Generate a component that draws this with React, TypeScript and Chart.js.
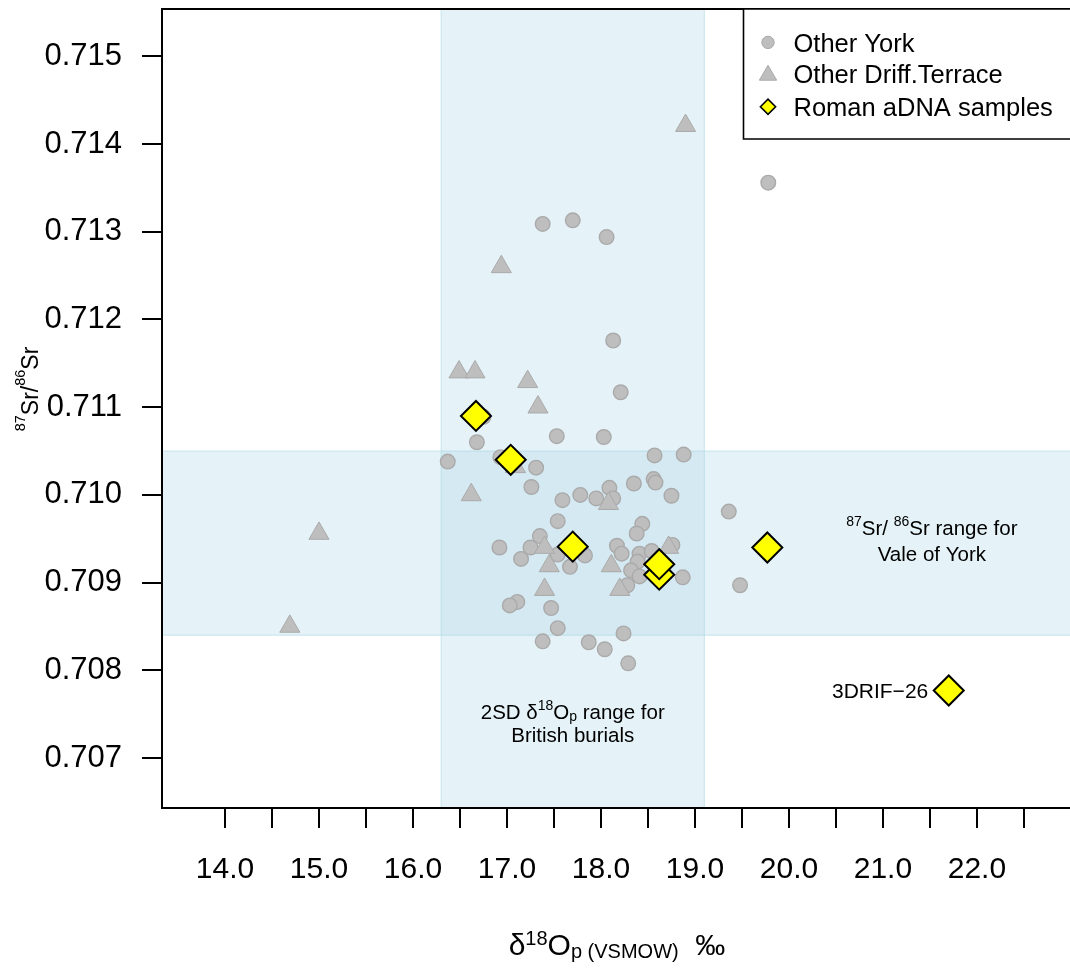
import React, { useEffect, useRef } from 'react';
import { Chart, registerables } from 'chart.js';

Chart.register(...registerables);

const FONT = '"Liberation Sans", Arial, Helvetica, sans-serif';

// ---- data ----
const yorkX = [17.38, 17.70, 18.06, 18.13, 18.21, 19.78, 16.68, 17.53, 18.03, 16.37, 16.93, 16.75, 17.31, 17.26, 18.57, 18.88, 17.59, 17.78, 17.95, 18.09, 18.13, 18.35, 18.56, 18.58, 18.75, 19.36, 19.48, 17.54, 18.44, 18.38, 17.35, 17.25, 16.92, 17.15, 17.83, 17.67, 17.54, 18.17, 18.22, 18.41, 18.54, 18.39, 18.32, 18.41, 18.28, 18.76, 18.87, 17.47, 17.11, 17.03, 17.54, 17.38, 17.87, 18.04, 18.24, 18.29];
const yorkY = [0.71309, 0.71313, 0.71294, 0.71176, 0.71117, 0.71356, 0.71060, 0.71067, 0.71066, 0.71038, 0.71043, 0.71089, 0.71031, 0.71009, 0.71045, 0.71046, 0.70994, 0.71000, 0.70996, 0.71008, 0.70996, 0.71013, 0.71018, 0.71014, 0.70999, 0.70981, 0.70897, 0.70970, 0.70967, 0.70956, 0.70953, 0.70940, 0.70940, 0.70927, 0.70931, 0.70918, 0.70932, 0.70942, 0.70933, 0.70933, 0.70936, 0.70924, 0.70914, 0.70907, 0.70897, 0.70943, 0.70906, 0.70871, 0.70878, 0.70874, 0.70848, 0.70833, 0.70832, 0.70824, 0.70842, 0.70808];

const driffX = [18.90, 16.94, 16.49, 16.66, 17.22, 17.33, 17.09, 16.62, 18.08, 17.40, 17.45, 18.11, 18.20, 18.72, 17.40, 15.00, 14.69];
const driffY = [0.71421, 0.71260, 0.71140, 0.71140, 0.71129, 0.71100, 0.71032, 0.71000, 0.70990, 0.70940, 0.70919, 0.70919, 0.70892, 0.70940, 0.70892, 0.70956, 0.70850];

const romanX = [16.67, 17.04, 17.70, 18.62, 18.62, 19.77, 21.70];
const romanY = [0.71090, 0.71040, 0.70941, 0.70909, 0.70921, 0.70940, 0.70777];
const romanLabels = ['', '', '', '', '', '', '3DRIF\u221226'];

const xTicks = [14, 14.5, 15, 15.5, 16, 16.5, 17, 17.5, 18, 18.5, 19, 19.5, 20, 20.5, 21, 21.5, 22, 22.5];
const xTickLabels = ['14.0', '', '15.0', '', '16.0', '', '17.0', '', '18.0', '', '19.0', '', '20.0', '', '21.0', '', '22.0', ''];
const yTicks = [0.707, 0.708, 0.709, 0.71, 0.711, 0.712, 0.713, 0.714, 0.715];
const yTickLabels = ['0.707', '0.708', '0.709', '0.710', '0.711', '0.712', '0.713', '0.714', '0.715'];

const oxygenBand = [16.3, 19.1];
const strontiumBand = [0.7084, 0.7105];
const oxygenNoteAt = [17.7, 0.7074];
const strontiumNoteAt = [21.52, 0.70945];

const legendLabels = ['Other York', 'Other Driff.Terrace', 'Roman aDNA samples'];

const GREY_FILL = 'rgb(190,190,190)';
const GREY_EDGE = 'rgb(170,170,170)';
const BAND_FILL = 'rgba(173,216,230,0.32)';
const BAND_EDGE = 'rgba(173,216,230,0.55)';

type Seg = { t: string; s: number; dy: number };

function drawSegs(ctx: CanvasRenderingContext2D, segs: Seg[], x: number, y: number, align: 'left' | 'center' | 'right') {
  let total = 0;
  const widths = segs.map((sg) => {
    ctx.font = `${sg.s}px ${FONT}`;
    const w = ctx.measureText(sg.t).width;
    total += w;
    return w;
  });
  let cx = align === 'center' ? x - total / 2 : align === 'right' ? x - total : x;
  ctx.textAlign = 'left';
  ctx.textBaseline = 'alphabetic';
  ctx.fillStyle = '#000';
  segs.forEach((sg, i) => {
    ctx.font = `${sg.s}px ${FONT}`;
    ctx.fillText(sg.t, cx, y + sg.dy);
    cx += widths[i];
  });
}

function circlePath(ctx: CanvasRenderingContext2D, x: number, y: number, r: number) {
  ctx.beginPath();
  ctx.arc(x, y, r, 0, Math.PI * 2);
  ctx.closePath();
}
function trianglePath(ctx: CanvasRenderingContext2D, x: number, y: number, r: number) {
  ctx.beginPath();
  ctx.moveTo(x, y - r);
  ctx.lineTo(x + r * Math.sin((2 * Math.PI) / 3), y + r * 0.5);
  ctx.lineTo(x - r * Math.sin((2 * Math.PI) / 3), y + r * 0.5);
  ctx.closePath();
}
function diamondPath(ctx: CanvasRenderingContext2D, x: number, y: number, r: number) {
  ctx.beginPath();
  ctx.moveTo(x - r, y);
  ctx.lineTo(x, y - r);
  ctx.lineTo(x + r, y);
  ctx.lineTo(x, y + r);
  ctx.closePath();
}

const bandsPlugin = {
  id: 'bands',
  beforeDatasetsDraw(chart: any) {
    const { ctx, chartArea: a, scales } = chart;
    const xs = scales.x;
    const ys = scales.y;
    ctx.save();
    ctx.beginPath();
    ctx.rect(a.left, a.top, a.right - a.left, a.bottom - a.top);
    ctx.clip();
    const x1 = xs.getPixelForValue(oxygenBand[0]);
    const x2 = xs.getPixelForValue(oxygenBand[1]);
    const y1 = ys.getPixelForValue(strontiumBand[1]);
    const y2 = ys.getPixelForValue(strontiumBand[0]);
    ctx.fillStyle = BAND_FILL;
    ctx.strokeStyle = BAND_EDGE;
    ctx.lineWidth = 1.2;
    ctx.fillRect(x1, a.top, x2 - x1, a.bottom - a.top);
    ctx.strokeRect(x1, a.top, x2 - x1, a.bottom - a.top);
    ctx.fillRect(a.left, y1, a.right - a.left, y2 - y1);
    ctx.strokeRect(a.left, y1, a.right - a.left + 4, y2 - y1);
    ctx.restore();
  },
};

const decorPlugin = {
  id: 'decor',
  afterDraw(chart: any) {
    const { ctx, chartArea: a, scales } = chart;
    const xs = scales.x;
    const ys = scales.y;
    ctx.save();
    // box (left, top, bottom)
    ctx.strokeStyle = '#000';
    ctx.lineWidth = 2;
    ctx.beginPath();
    ctx.moveTo(a.right + 2, a.top);
    ctx.lineTo(a.left, a.top);
    ctx.lineTo(a.left, a.bottom);
    ctx.lineTo(a.right + 2, a.bottom);
    ctx.stroke();

    // band notes
    const ox = xs.getPixelForValue(oxygenNoteAt[0]);
    const oy = ys.getPixelForValue(oxygenNoteAt[1]);
    drawSegs(ctx, [
      { t: '2SD \u03b4', s: 20.5, dy: 0 },
      { t: '18', s: 14, dy: -9 },
      { t: 'O', s: 20.5, dy: 0 },
      { t: 'p', s: 14, dy: 2 },
      { t: ' range for', s: 20.5, dy: 0 },
    ], ox, oy - 3.6, 'center');
    drawSegs(ctx, [{ t: 'British burials', s: 20.5, dy: 0 }], ox, oy + 18.8, 'center');

    const sx = xs.getPixelForValue(strontiumNoteAt[0]);
    const sy = ys.getPixelForValue(strontiumNoteAt[1]);
    drawSegs(ctx, [
      { t: '87', s: 14, dy: -9 },
      { t: 'Sr/ ', s: 20.5, dy: 0 },
      { t: '86', s: 14, dy: -9 },
      { t: 'Sr range for', s: 20.5, dy: 0 },
    ], sx, sy - 8.2, 'center');
    drawSegs(ctx, [{ t: 'Vale of York', s: 20.5, dy: 0 }], sx, sy + 17.5, 'center');

    // point labels
    romanLabels.forEach((lab, i) => {
      if (!lab) return;
      const px = xs.getPixelForValue(romanX[i]);
      const py = ys.getPixelForValue(romanY[i]);
      drawSegs(ctx, [{ t: lab, s: 21, dy: 0 }], px - 20.5, py + 7.3, 'right');
    });

    // axis titles
    const cx = (a.left + a.right) / 2 + 1;
    drawSegs(ctx, [
      { t: '\u03b4', s: 30, dy: 0 },
      { t: '18', s: 20, dy: -10 },
      { t: 'O', s: 30, dy: 0 },
      { t: 'p (VSMOW)', s: 20, dy: 3 },
      { t: '  \u2030', s: 30, dy: 0 },
    ], cx, 955, 'center');

    ctx.save();
    ctx.translate(37.7, 389);
    ctx.rotate(-Math.PI / 2);
    drawSegs(ctx, [
      { t: '87', s: 14.5, dy: -13 },
      { t: 'Sr/', s: 23, dy: 0 },
      { t: '86', s: 14.5, dy: -13 },
      { t: 'Sr', s: 23, dy: 0 },
    ], 0, 0, 'center');
    ctx.restore();

    // legend
    const lx = a.right - 326.5;
    const ly = a.top;
    ctx.fillStyle = '#fff';
    ctx.fillRect(lx, ly, a.right - lx + 2, 130);
    ctx.strokeStyle = '#000';
    ctx.lineWidth = 1.6;
    ctx.beginPath();
    ctx.moveTo(a.right + 2, ly);
    ctx.lineTo(lx, ly);
    ctx.lineTo(lx, ly + 130);
    ctx.lineTo(a.right + 2, ly + 130);
    ctx.stroke();
    const symX = lx + 24.5;
    const rows = [ly + 33.4, ly + 64.7, ly + 97.7];
    circlePath(ctx, symX, rows[0], 6.2);
    ctx.fillStyle = GREY_FILL;
    ctx.fill();
    ctx.strokeStyle = GREY_EDGE;
    ctx.lineWidth = 1;
    ctx.stroke();
    trianglePath(ctx, symX, rows[1] + 1.5, 10);
    ctx.fillStyle = GREY_FILL;
    ctx.fill();
    ctx.stroke();
    diamondPath(ctx, symX, rows[2], 7.6);
    ctx.fillStyle = '#ffff00';
    ctx.fill();
    ctx.strokeStyle = '#000';
    ctx.lineWidth = 1.6;
    ctx.stroke();
    ctx.fillStyle = '#000';
    ctx.font = `25.5px ${FONT}`;
    ctx.textAlign = 'left';
    ctx.textBaseline = 'alphabetic';
    legendLabels.forEach((lab, i) => {
      ctx.fillText(lab, lx + 50, rows[i] + 9.2);
    });
    ctx.restore();
  },
};

function zeroPadding(scale: any) {
  scale.paddingTop = 0;
  scale.paddingBottom = 0;
  scale.paddingLeft = 0;
  scale.paddingRight = 0;
}

export default function App() {
  const ref = useRef<HTMLCanvasElement | null>(null);

  useEffect(() => {
    if (!ref.current) return;
    Chart.defaults.font.family = FONT;
    const chart = new Chart(ref.current, {
      type: 'scatter',
      data: {
        datasets: [
          {
            label: legendLabels[0],
            data: yorkX.map((x, i) => ({ x, y: yorkY[i] })),
            pointStyle: 'circle',
            pointRadius: 7.3,
            pointBorderWidth: 1.4,
            backgroundColor: GREY_FILL,
            borderColor: GREY_EDGE,
            order: 3,
          },
          {
            label: legendLabels[1],
            data: driffX.map((x, i) => ({ x, y: driffY[i] })),
            pointStyle: 'triangle',
            pointRadius: 11.6,
            pointBorderWidth: 1,
            backgroundColor: GREY_FILL,
            borderColor: GREY_EDGE,
            order: 2,
          },
          {
            label: legendLabels[2],
            data: romanX.map((x, i) => ({ x, y: romanY[i] })),
            pointStyle: 'rectRot',
            pointRadius: 15,
            pointBorderWidth: 2,
            backgroundColor: '#ffff00',
            borderColor: '#000',
            order: 1,
          },
        ],
      },
      options: {
        animation: false,
        responsive: false,
        devicePixelRatio: 1,
        events: [],
        layout: { autoPadding: false, padding: { top: 9, left: 0, right: 0, bottom: 0 } },
        plugins: { legend: { display: false }, tooltip: { enabled: false }, title: { display: false } },
        scales: {
          x: {
            type: 'linear',
            min: 13.33,
            max: 22.99,
            afterBuildTicks: (scale: any) => {
              scale.ticks = xTicks.map((v) => ({ value: v }));
            },
            afterFit: (scale: any) => {
              scale.height = 160;
              zeroPadding(scale);
            },
            ticks: {
              autoSkip: false,
              maxRotation: 0,
              minRotation: 0,
              padding: 24,
              color: '#000',
              font: { size: 30, family: FONT },
              callback: (_v: any, i: number) => xTickLabels[i],
            },
            grid: { drawOnChartArea: false, drawTicks: true, tickLength: 20, color: '#000', lineWidth: 2 },
            border: { display: false },
          },
          y: {
            type: 'linear',
            min: 0.70643,
            max: 0.71554,
            afterBuildTicks: (scale: any) => {
              scale.ticks = yTicks.map((v) => ({ value: v }));
            },
            afterFit: (scale: any) => {
              scale.width = 162;
              zeroPadding(scale);
            },
            ticks: {
              autoSkip: false,
              padding: 20,
              color: '#000',
              font: { size: 31, family: FONT },
              callback: (_v: any, i: number) => yTickLabels[i],
            },
            grid: { drawOnChartArea: false, drawTicks: true, tickLength: 20, color: '#000', lineWidth: 2 },
            border: { display: false },
          },
        },
      },
      plugins: [bandsPlugin, decorPlugin],
    } as any);
    return () => chart.destroy();
  }, []);

  return (
    <div style={{ position: 'absolute', left: 0, top: 0, width: 1070, height: 968, background: '#fff' }}>
      <canvas ref={ref} width={1070} height={968} style={{ display: 'block', width: 1070, height: 968 }} />
    </div>
  );
}
